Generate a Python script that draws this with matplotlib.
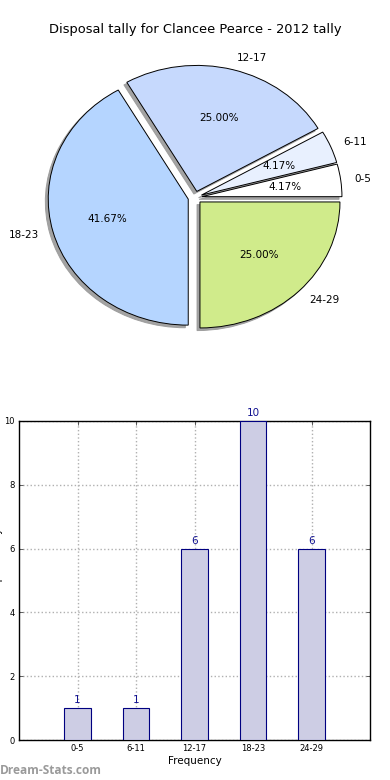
import matplotlib
matplotlib.use("Agg")
import matplotlib.pyplot as plt

title = "Disposal tally for Clancee Pearce - 2012 tally"
categories = ["0-5", "6-11", "12-17", "18-23", "24-29"]
counts = [1, 1, 6, 10, 6]
pie_colors = ["#ffffff", "#e8f0fe", "#c6d9fd", "#b5d5ff", "#d0eb8b"]
yticks = [0, 2, 4, 6, 8, 10]

fig = plt.figure(figsize=(3.9, 7.8), dpi=100)
plt.rcParams['font.family'] = ['DejaVu Sans']

# ---- Pie ----
axp = fig.add_axes([20/390, 1 - 355/780, 350/390, 315/780])
wedges, texts, autotexts = axp.pie(
    counts, labels=categories, colors=pie_colors, explode=[0.05]*5,
    autopct='%1.2f%%', startangle=0, counterclock=True,
    shadow={'ox': -0.015, 'oy': -0.015, 'facecolor': '#999999',
            'edgecolor': '#999999', 'alpha': 0.9},
    wedgeprops={'edgecolor': 'black', 'linewidth': 0.7},
    textprops={'fontsize': 7.5}, labeldistance=1.1, pctdistance=0.6)
axp.set_aspect('auto')
axp.set_xlim(-1.25, 1.25)
axp.set_ylim(-1.25, 1.25)
axp.axis('off')

fig.text(0.5, 1 - 30/780, title, ha='center', va='center', fontsize=9.4)

# ---- Bar ----
axb = fig.add_axes([19/390, 1 - 740/780, 351/390, 319/780])
x = list(range(len(categories)))
bars = axb.bar(x, counts, width=0.45, color='#cdcde4', edgecolor='#000080',
               linewidth=0.8, zorder=3)
for xi, c in zip(x, counts):
    axb.annotate(str(c), (xi, c), xytext=(0, 2), textcoords='offset points',
                 ha='center', va='bottom', fontsize=7.5, color='#101090')
axb.set_xlim(-1, 5)
axb.set_ylim(0, 10)
axb.set_xticks(x)
axb.set_xticklabels(categories, fontsize=6)
axb.set_yticks(yticks)
axb.set_yticklabels([str(t) for t in yticks], fontsize=6)
axb.tick_params(direction='in', length=3, width=0.6, top=True, right=True,
                colors='#444444', labelcolor='black', pad=3)
axb.grid(True, linestyle=':', color='#b0b0b0', linewidth=1.0, zorder=0)
axb.set_axisbelow(True)
for s in axb.spines.values():
    s.set_linewidth(1.0)
axb.set_xlabel("Frequency", fontsize=7.5, labelpad=2)
fig.text(-2/390, 1 - 563/780, "Disposal tally", rotation=90, ha='center',
         va='center', fontsize=7.5)

fig.text(0/390, 1 - 770/780, "Dream-Stats.com", ha='left', va='center',
         fontsize=8.6, color='#9a9a9a', family='Open Sans', fontweight='bold')

fig.savefig("out.png", dpi=100)
